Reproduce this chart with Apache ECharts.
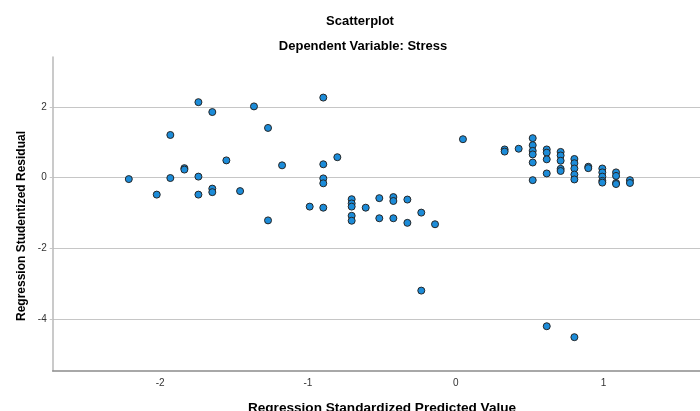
<!DOCTYPE html>
<html>
<head>
<meta charset="utf-8">
<script src="https://cdn.jsdelivr.net/npm/echarts@6/dist/echarts.min.js"></script>
<style>html,body{margin:0;padding:0;background:#fff}#c{width:700px;height:411px}</style>
</head>
<body>
<div id="c"></div>
<script>
// Regression Standardized Predicted Value
const predicted = [
  -2.212, -2.023, -1.931, -1.931, -1.836, -1.836,
  -1.741, -1.741, -1.741, -1.647, -1.647, -1.647,
  -1.552, -1.459, -1.365, -1.270, -1.270, -1.175, -0.988,
  -0.896, -0.896, -0.896, -0.896, -0.896, -0.801,
  -0.704, -0.704, -0.704, -0.704, -0.704, -0.609,
  -0.517, -0.517, -0.422, -0.422, -0.422, -0.327, -0.327,
  -0.233, -0.233, -0.140, 0.049, 0.331, 0.331, 0.426,
  0.521, 0.521, 0.521, 0.521, 0.521, 0.521,
  0.616, 0.616, 0.616, 0.616, 0.616,
  0.710, 0.710, 0.710, 0.710, 0.710,
  0.803, 0.803, 0.803, 0.803, 0.803, 0.803,
  0.897, 0.897, 0.992, 0.992, 0.992, 0.992, 0.992,
  1.085, 1.085, 1.085, 1.085, 1.179, 1.179
];
// Regression Studentized Residual
const residual = [
  -0.04, -0.48, 1.21, -0.01, 0.27, 0.23,
  2.14, 0.03, -0.48, 1.86, -0.31, -0.41,
  0.49, -0.38, 2.02, 1.41, -1.21, 0.35, -0.82,
  2.27, 0.38, -0.02, -0.16, -0.85, 0.58,
  -0.61, -0.73, -0.82, -1.08, -1.22, -0.85,
  -0.58, -1.15, -0.55, -0.66, -1.15, -0.62, -1.28,
  -0.99, -3.20, -1.32, 1.09, 0.80, 0.74, 0.82,
  1.12, 0.92, 0.76, 0.66, 0.43, -0.07,
  0.80, 0.71, 0.52, 0.12, -4.21,
  0.73, 0.63, 0.48, 0.25, 0.19,
  0.53, 0.41, 0.26, 0.09, -0.05, -4.52,
  0.31, 0.27, 0.26, 0.15, 0.03, -0.09, -0.14,
  0.15, 0.05, -0.15, -0.18, -0.07, -0.15
];
const xTicks = [-2, -1, 0, 1];
const yTicks = [-4, -2, 0, 2];
const titleText = 'Scatterplot';
const subtitleText = 'Dependent Variable: Stress';
const xName = 'Regression Standardized Predicted Value';
const yName = 'Regression Studentized Residual';

const FONT = '"Liberation Sans", Arial, sans-serif';
const points = predicted.map((v, i) => [v, residual[i]]);

const chart = echarts.init(document.getElementById('c'), null, {renderer: 'canvas'});
chart.setOption({
  animation: false,
  backgroundColor: '#ffffff',
  title: [
    {text: titleText, left: 355, top: 10, textAlign: 'center',
     textStyle: {fontFamily: FONT, fontSize: 13, fontWeight: 'bold', color: '#000'}},
    {text: subtitleText, left: 358, top: 35, textAlign: 'center',
     textStyle: {fontFamily: FONT, fontSize: 13, fontWeight: 'bold', color: '#000'}}
  ],
  grid: {left: 52.7, right: 0, top: 57, bottom: 40.3, containLabel: false},
  xAxis: {
    type: 'value', min: -2.727, max: 1.653,
    axisLine: {show: true, onZero: false, lineStyle: {color: '#8c8c8c', width: 1.5}},
    axisTick: {show: false, customValues: xTicks},
    axisLabel: {customValues: xTicks, margin: 8, fontFamily: FONT, fontSize: 10, color: '#333'},
    splitLine: {show: false}
  },
  yAxis: {
    type: 'value', min: -5.47, max: 3.42,
    axisLine: {show: true, onZero: false, lineStyle: {color: '#b8b8b8', width: 1.5}},
    axisTick: {show: true, customValues: yTicks, length: 3, lineStyle: {color: '#c6c6c6'}},
    axisLabel: {customValues: yTicks, margin: 6, fontFamily: FONT, fontSize: 10, color: '#333'},
    splitLine: {show: true, lineStyle: {color: '#c6c6c6', width: 1.2}}
  },
  graphic: [
    {type: 'text', x: 382, y: 408,
     style: {text: xName, fill: '#000', font: 'bold 13.6px ' + FONT, align: 'center', verticalAlign: 'middle'}},
    {type: 'text', x: 21.5, y: 226, rotation: Math.PI / 2,
     style: {text: yName, fill: '#000', font: 'bold 12px ' + FONT, align: 'center', verticalAlign: 'middle'}}
  ],
  series: [{
    type: 'scatter',
    data: points,
    symbol: 'circle',
    symbolSize: 7,
    itemStyle: {color: '#1c8cd9', borderColor: '#262626', borderWidth: 1, opacity: 1}
  }]
});
</script>
</body>
</html>
